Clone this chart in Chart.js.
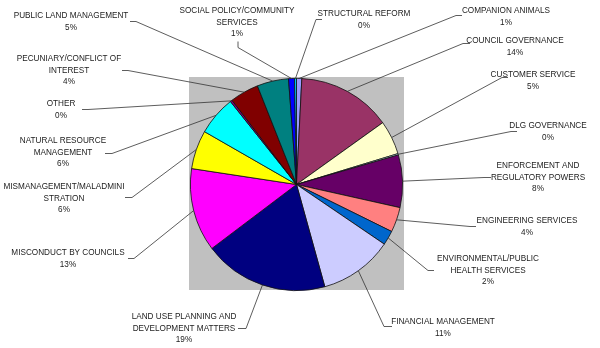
<!DOCTYPE html>
<html>
<head>
<meta charset="utf-8">
<script src="https://cdn.jsdelivr.net/npm/chart.js@4/dist/chart.umd.min.js"></script>
<style>
  html, body { margin: 0; padding: 0; background: #fff; }
  #pieChart { display: block; }
</style>
</head>
<body>
<canvas id="pieChart" width="600" height="348"></canvas>
<script>
// complaint categories, one entry per slice (wrapped the way they print)
const categories = [
  ['COMPANION ANIMALS'],
  ['COUNCIL GOVERNANCE'],
  ['CUSTOMER SERVICE'],
  ['DLG GOVERNANCE'],
  ['ENFORCEMENT AND', 'REGULATORY POWERS'],
  ['ENGINEERING SERVICES'],
  ['ENVIRONMENTAL/PUBLIC', 'HEALTH SERVICES'],
  ['FINANCIAL MANAGEMENT'],
  ['LAND USE PLANNING AND', 'DEVELOPMENT MATTERS'],
  ['MISCONDUCT BY COUNCILS'],
  ['MISMANAGEMENT/MALADMINI', 'STRATION'],
  ['NATURAL RESOURCE', 'MANAGEMENT'],
  ['OTHER'],
  ['PECUNIARY/CONFLICT OF', 'INTEREST'],
  ['PUBLIC LAND MANAGEMENT'],
  ['SOCIAL POLICY/COMMUNITY', 'SERVICES'],
  ['STRUCTURAL REFORM']
];

// share of complaints, percent
const shares = [0.8, 14.3, 5.2, 0.2, 8.0, 3.8, 2.2, 11.2, 19.0, 12.7, 5.9, 6.0, 0.3, 4.4, 4.8, 0.9, 0.3];

const sliceColors = [
  '#9999FF', '#993366', '#FFFFCC', '#CCFFFF', '#660066', '#FF8080',
  '#0066CC', '#CCCCFF', '#000080', '#FF00FF', '#FFFF00', '#00FFFF',
  '#800080', '#800000', '#008080', '#0000FF', '#00CCFF'
];

// label placement: [text centre x, first line y, line start x, y, elbow x, y]
const labelSpots = [
  [506, 11, 462, 15, 456, 15],
  [515, 41, 470, 43, 463, 43],
  [533, 75, 508, 77, 502, 77],
  [548, 126, 517, 131, 511, 131],
  [538, 166, 491, 177, 484, 177],
  [527, 221, 476, 226, 470, 226],
  [488, 259, 434, 270, 428, 270],
  [443, 322, 392, 326, 384, 326],
  [184, 317, 238, 328, 246, 328],
  [68, 253, 128, 258, 134, 258],
  [64, 187, 125, 197, 132, 197],
  [63, 141, 105, 153, 112, 153],
  [61, 104, 82, 109, 88, 109],
  [69, 59, 122, 70, 128, 70],
  [71, 16, 130, 21, 136, 21],
  [237, 11, 238, 41, 238, 47],
  [364, 14, 322, 19, 316, 19]
];

const total = shares.reduce((a, b) => a + b, 0);

// grey square behind the pie
const plotBackground = {
  id: 'plotBackground',
  beforeDatasetsDraw(chart) {
    const arc = chart.getDatasetMeta(0).data[0];
    const c = chart.ctx;
    const r = arc.outerRadius;
    c.save();
    c.fillStyle = '#C0C0C0';
    c.fillRect(Math.round(arc.x - r) - 1, Math.round(arc.y - r) - 1, Math.round(2 * r) + 3, Math.round(2 * r) + 1);
    c.restore();
  }
};

// category names, percentages and leader lines
const sliceLabels = {
  id: 'sliceLabels',
  afterDatasetsDraw(chart) {
    const c = chart.ctx;
    const arcs = chart.getDatasetMeta(0).data;
    c.save();
    c.font = '8.2px "Liberation Sans", Arial, sans-serif';
    c.textAlign = 'center';
    c.textBaseline = 'middle';
    arcs.forEach((arc, i) => {
      const spot = labelSpots[i];
      const mid = (arc.startAngle + arc.endAngle) / 2;
      const px = arc.x + Math.cos(mid) * arc.outerRadius;
      const py = arc.y + Math.sin(mid) * arc.outerRadius;

      c.strokeStyle = '#333';
      c.lineWidth = 0.8;
      c.beginPath();
      c.moveTo(spot[2], spot[3] + 0.5);
      c.lineTo(spot[4], spot[5] + 0.5);
      c.lineTo(px, py);
      c.stroke();

      const lines = categories[i].concat([Math.round(shares[i] / total * 100) + '%']);
      c.fillStyle = '#222';
      lines.forEach((t, k) => c.fillText(t, spot[0], spot[1] + k * 11.5));
    });
    c.restore();
  }
};

const ctx = document.getElementById('pieChart').getContext('2d');

const pieChart = new Chart(ctx, {
  type: 'pie',
  data: {
    labels: categories,
    datasets: [{
      data: shares,
      backgroundColor: sliceColors,
      borderColor: '#111',
      borderWidth: 0.8
    }]
  },
  options: {
    responsive: false,
    animation: false,
    layout: {
      padding: { left: 190, right: 197, top: 78, bottom: 57 }
    },
    plugins: {
      legend: { display: false },
      tooltip: { enabled: false }
    }
  },
  plugins: [plotBackground, sliceLabels]
});
</script>
</body>
</html>
